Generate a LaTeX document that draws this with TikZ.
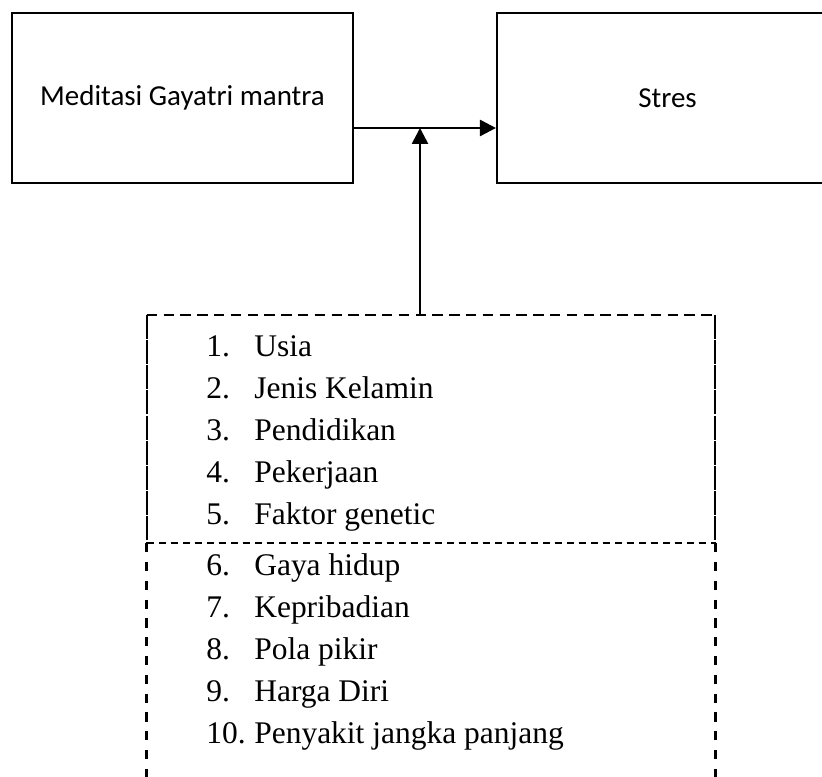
\documentclass[tikz,border=0pt]{standalone}
\usepackage{fontspec}
\setmainfont{Liberation Serif}
\newfontfamily\boxfont{Carlito}
\usepackage{tikz}
\usetikzlibrary{calc}
\usetikzlibrary{arrows.meta}
\usetikzlibrary{positioning}

\begin{document}
\begin{tikzpicture}[
scale=1,
MyBoxes/.style={draw=black,line width=1.5pt,minimum width=8.525cm,minimum height=4.25cm,inner sep=0pt,font=\boxfont\fontsize{20.6}{24}\selectfont},
MyArrows/.style={line width=1.9pt,-{Triangle[length=4mm, width=4mm]}},
ListBox/.style={draw=none,minimum width=14.2cm,minimum height=5.7cm,inner sep=0pt},
TopDash/.style={line width=1.6pt,dash pattern=on 0.26cm off 0.16cm},
SideDash/.style={line width=1.6pt,dash pattern=on 0.6cm off 0.03cm},
MidDash/.style={line width=1.4pt,dash pattern=on 0.18cm off 0.12cm},
LowDash/.style={line width=1.8pt,dash pattern=on 0.23cm off 0.24cm},
Items/.style={anchor=base west,inner sep=0pt,font=\fontsize{22.4}{26}\selectfont}
]
\useasboundingbox (0,0) rectangle (20.55,19.425);
\clip (0,0) rectangle (20.55,19.425);

% the two boxes on top
\node[MyBoxes] (meditasi) at (4.5625,16.975) {Meditasi Gayatri mantra};
\node[MyBoxes] (stres) at (16.6875,16.975) {Stres};

% point where the arrow from below meets
\coordinate (join) at (10.5,16.225);

\draw[MyArrows] (meditasi.east |- join) -- (stres.west |- join);

% box of the factors
\node[ListBox] (faktor) at (10.775,8.7) {};

\draw[TopDash] (faktor.north west) -- (faktor.north east);
\draw[SideDash] (faktor.north west) -- (faktor.south west);
\draw[SideDash] (faktor.north east) -- (faktor.south east);
\draw[MidDash] (faktor.south west) -- (faktor.south east);

\coordinate (lowleft) at ($(faktor.south west)+(0,-6)$);
\coordinate (lowright) at ($(faktor.south east)+(0,-6)$);
\draw[LowDash] (faktor.south west) -- (lowleft);
\draw[LowDash] (faktor.south east) -- (lowright);

\draw[MyArrows] (join |- faktor.north) -- (join);

% the list
\foreach \n/\txt in {1/Usia,2/Jenis Kelamin,3/Pendidikan,4/Pekerjaan,5/Faktor genetic}{
\pgfmathparse{10.5-1.05*(\n-1)} \let\Yn\pgfmathresult
\node[Items] (num\n) at (5.15,\Yn) {\n.};
\node[Items] (item\n) at (6.35,\Yn) {\txt};
}
\foreach \n/\txt in {6/Gaya hidup,7/Kepribadian,8/Pola pikir,9/Harga Diri,10/Penyakit jangka panjang}{
\pgfmathparse{5.025-1.05*(\n-6)} \let\Yn\pgfmathresult
\node[Items] (num\n) at (5.15,\Yn) {\n.};
\node[Items] (item\n) at (6.35,\Yn) {\txt};
}

\end{tikzpicture}
\end{document}
